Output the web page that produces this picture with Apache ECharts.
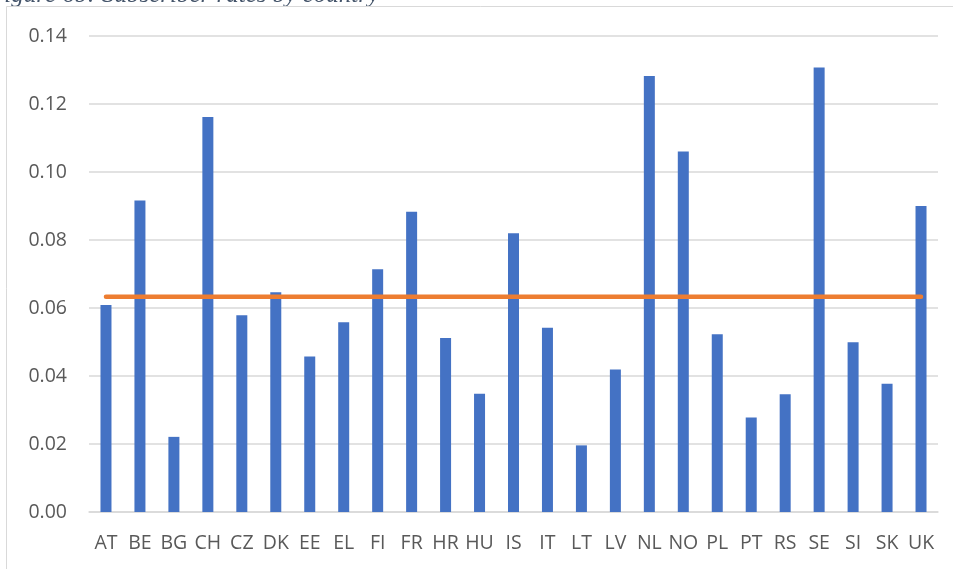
<!DOCTYPE html>
<html>
<head>
<meta charset="utf-8">
<script src="https://cdn.jsdelivr.net/npm/echarts@6/dist/echarts.min.js"></script>
<style>
  html, body { margin: 0; padding: 0; background: #fff; }
  #chart { width: 953px; height: 569px; }
</style>
</head>
<body>
<div id="chart"></div>
<script>
// 国家代码
const countries = ['AT', 'BE', 'BG', 'CH', 'CZ', 'DK', 'EE', 'EL', 'FI', 'FR', 'HR', 'HU', 'IS',
  'IT', 'LT', 'LV', 'NL', 'NO', 'PL', 'PT', 'RS', 'SE', 'SI', 'SK', 'UK']

// 各国比率
const rates = [0.0609, 0.0916, 0.0221, 0.1162, 0.0579, 0.0646, 0.0457, 0.0558, 0.0714, 0.0883,
  0.0512, 0.0348, 0.0820, 0.0542, 0.0196, 0.0419, 0.1282, 0.1060, 0.0523, 0.0278,
  0.0346, 0.1307, 0.0499, 0.0377, 0.0900]

// 平均线
const average = [0.0633, 0.0633, 0.0633, 0.0633, 0.0633, 0.0633, 0.0633, 0.0633, 0.0633, 0.0633,
  0.0633, 0.0633, 0.0633, 0.0633, 0.0633, 0.0633, 0.0633, 0.0633, 0.0633, 0.0633,
  0.0633, 0.0633, 0.0633, 0.0633, 0.0633]

const yTicks = ['0.00', '0.02', '0.04', '0.06', '0.08', '0.10', '0.12', '0.14']

const titleText = 'Figure 6b: Subscriber rates by country'

const chart = echarts.init(document.getElementById('chart'))

chart.setOption({
  animation: false,
  graphic: [
    {
      type: 'text',
      left: -11,
      top: -17,
      z: -2,
      style: {
        text: titleText,
        font: 'italic 25px "Liberation Serif"',
        fill: '#44546A'
      }
    },
    {
      type: 'rect',
      shape: { x: 6.5, y: 6.5, width: 1000, height: 600 },
      style: { fill: '#fff', stroke: '#d9d9d9', lineWidth: 1 },
      z: -1
    }
  ],
  grid: {
    left: 89,
    right: 15,
    top: 36,
    bottom: 57
  },
  xAxis: {
    type: 'category',
    data: countries,
    axisLine: { lineStyle: { color: '#d9d9d9', width: 1.5 } },
    axisTick: { show: false },
    axisLabel: {
      color: '#595959',
      fontSize: 19.5,
      fontFamily: 'Open Sans',
      interval: 0,
      margin: 21
    }
  },
  yAxis: {
    type: 'value',
    min: 0,
    max: 0.14,
    interval: 0.02,
    axisLine: { show: false },
    axisTick: { show: false },
    axisLabel: {
      color: '#595959',
      fontSize: 19.5,
      fontFamily: 'Open Sans',
      margin: 22,
      formatter: (v) => yTicks[Math.round(v / 0.02)]
    },
    splitLine: { lineStyle: { color: '#d9d9d9', width: 1.5 } }
  },
  series: [
    {
      type: 'bar',
      data: rates,
      barWidth: 11,
      itemStyle: { color: '#4472C4' }
    },
    {
      type: 'line',
      data: average,
      symbol: 'none',
      lineStyle: { color: '#ED7D31', width: 4.5, cap: 'round' }
    }
  ]
})
</script>
</body>
</html>
